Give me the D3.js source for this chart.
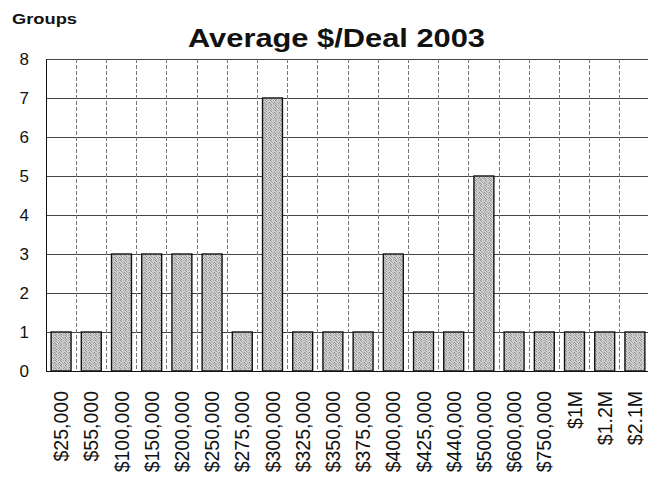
<!DOCTYPE html>
<html><head><meta charset="utf-8">
<script src="https://cdn.jsdelivr.net/npm/d3@7"></script>
<style>body{margin:0;background:#fff}svg{display:block}text{font-family:"Liberation Sans",Arial,sans-serif}</style>
</head><body><svg id="c" width="648" height="489"></svg>
<script>
const categories = ["$25,000","$55,000","$100,000","$150,000","$200,000","$250,000","$275,000","$300,000","$325,000","$350,000","$375,000","$400,000","$425,000","$440,000","$500,000","$600,000","$750,000","$1M","$1.2M","$2.1M"];
const groups = [1,1,3,3,3,3,1,7,1,1,1,3,1,1,5,1,1,1,1,1];
const yTicks = [0,1,2,3,4,5,6,7,8];

(function(){
const svg = d3.select("#c");
const pLeft = 46, pRight = 650, pTop = 59, pBottom = 371;
const x = d3.scaleBand().domain(categories).range([pLeft, pRight]).paddingInner(0.34).paddingOuter(0.17);
const xb = d3.scaleBand().domain(categories).range([pLeft, pRight]);
const y = d3.scaleLinear().domain([0, 8]).range([pBottom, pTop]);

svg.append("g").selectAll("line").data(yTicks).join("line")
  .attr("x1", pLeft).attr("x2", pRight).attr("y1", d => y(d)).attr("y2", d => y(d))
  .attr("stroke", "#444").attr("stroke-width", 1).attr("shape-rendering","crispEdges");
svg.append("g").selectAll("line").data(categories.slice(1)).join("line")
  .attr("x1", d => xb(d)).attr("x2", d => xb(d)).attr("y1", pTop).attr("y2", pBottom)
  .attr("stroke", "#777").attr("stroke-width", 1).attr("stroke-dasharray","4,2").attr("shape-rendering","crispEdges");

const defs = svg.append("defs");
const pat = defs.append("pattern").attr("id","dots").attr("width",5).attr("height",5).attr("patternUnits","userSpaceOnUse");
pat.append("rect").attr("width",5).attr("height",5).attr("fill","#d0d0d0");
[[0,0,"#8c8c8c"],[3,0,"#a5a5a5"],[1,1,"#9a9a9a"],[4,2,"#888"],[2,2,"#b0b0b0"],[0,3,"#999"],[3,3,"#a0a0a0"],[1,4,"#8f8f8f"],[4,4,"#b5b5b5"]]
  .forEach(([px,py,c]) => pat.append("rect").attr("x",px).attr("y",py).attr("width",1).attr("height",1).attr("fill",c));

svg.append("g").selectAll("rect").data(categories).join("rect")
  .attr("x", d => x(d)).attr("width", x.bandwidth())
  .attr("y", (d,i) => y(groups[i])).attr("height", (d,i) => y(0) - y(groups[i]))
  .attr("fill", "url(#dots)").attr("stroke", "#111").attr("stroke-width", 1.4);

const yAxis = d3.axisLeft(y).tickValues(yTicks).tickSize(0).tickPadding(17);
const gy = svg.append("g").attr("transform", `translate(${pLeft},0)`).call(yAxis);
gy.select(".domain").attr("stroke","#111");
gy.selectAll("text").attr("font-size", 17).attr("fill","#111");

const xAxis = d3.axisBottom(xb).tickSize(0).tickPadding(0);
const gx = svg.append("g").attr("transform", `translate(0,${pBottom})`).call(xAxis);
gx.select(".domain").attr("stroke","#111");
gx.selectAll("text").attr("font-size", 19.5).attr("fill","#111")
  .attr("text-anchor","end").attr("dy", null)
  .attr("transform","translate(0,20) rotate(-90)").attr("x",0).attr("y",0).attr("dominant-baseline","central");

svg.append("text").attr("x", 188).attr("y", 47)
  .attr("font-size", 26).attr("font-weight","bold").attr("fill","#111")
  .attr("textLength", 297).attr("lengthAdjust","spacingAndGlyphs").text("Average $/Deal 2003");
svg.append("text").attr("x", 12).attr("y", 24)
  .attr("font-size", 15).attr("font-weight","bold").attr("fill","#111")
  .attr("textLength", 65).attr("lengthAdjust","spacingAndGlyphs").text("Groups");
})();
</script></body></html>
